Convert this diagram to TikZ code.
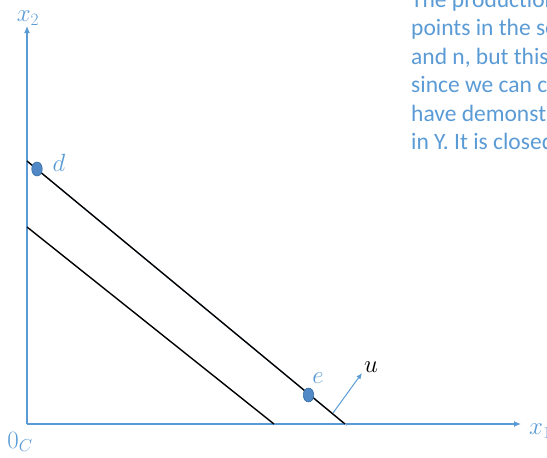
\documentclass[tikz,border=0pt]{standalone}
\usepackage{fontspec}
\setmainfont{Carlito}
\usetikzlibrary{arrows.meta,calc,shapes.geometric}
\definecolor{axblue}{HTML}{5B9BD5}
\definecolor{dotblue}{HTML}{5089C6}
\definecolor{dotedge}{HTML}{3A6EA5}
\tikzset{
  axis/.style={draw=axblue, line width=1.1pt, -{Latex[length=7pt,width=6pt]}},
  budget/.style={draw=black, line width=1.4pt},
  pt/.style={ellipse, fill=dotblue, draw=dotedge, line width=0.6pt, minimum width=10.5pt, minimum height=14pt, inner sep=0pt},
  mlab/.style={text=axblue, font=\fontsize{25}{25}\selectfont, inner sep=0pt},
  para/.style={text=axblue, font=\fontsize{23.5}{28.5}\selectfont, anchor=base west, inner sep=0pt}
}
\begin{document}
\begin{tikzpicture}[x=1pt,y=-1pt]
\useasboundingbox (0,0) rectangle (547,458);
\clip (0,0) rectangle (547,458);
\coordinate (O) at (27,424);
\coordinate (Y) at (27,26);
\coordinate (X) at (521,424);
\draw[axis] (O) -- (Y);
\draw[axis] (O) -- (X);
\node[mlab] (x2) at (28,18) {$x_2$};
\node[mlab, anchor=west] (x1) at (529,431) {$x_1$};
\node[mlab] (oc) at (20,442) {$0_C$};
% budget lines
\coordinate (a1) at (27,161);
\coordinate (a2) at (345,424);
\coordinate (b1) at (27,227);
\coordinate (b2) at (274,424);
\draw[draw=axblue!60, line width=1pt] ($(a1)+(1.5,1.5)$) -- ($(a2)+(1.5,1.5)$);
\draw[budget] (a1) -- (a2);
\draw[budget] (b1) -- (b2);
\node[pt] (d) at (37,169) {};
\node[pt] (e) at (308.5,395) {};
\node[mlab] (dl) at (59,163) {$d$};
\node[mlab] (el) at (318,378) {$e$};
\coordinate (us) at (333,413);
\coordinate (ue) at (362,373);
\draw[draw=axblue, line width=1pt, -{Latex[length=6pt,width=5pt]}] (us) -- (ue);
\node[text=black, font=\fontsize{25}{25}\selectfont, inner sep=0pt] (ul) at (371,367) {$u$};
% paragraph
\node[para] (p1) at (411,7) {The production};
\node[para] (p2) at (411,35.5) {points in the se};
\node[para] (p3) at (411,64) {and n, but this};
\node[para] (p4) at (411,92.5) {since we can co};
\node[para] (p5) at (411,121) {have demonstra};
\node[para] (p6) at (411,149.5) {in Y. It is closed};
\end{tikzpicture}
\end{document}
